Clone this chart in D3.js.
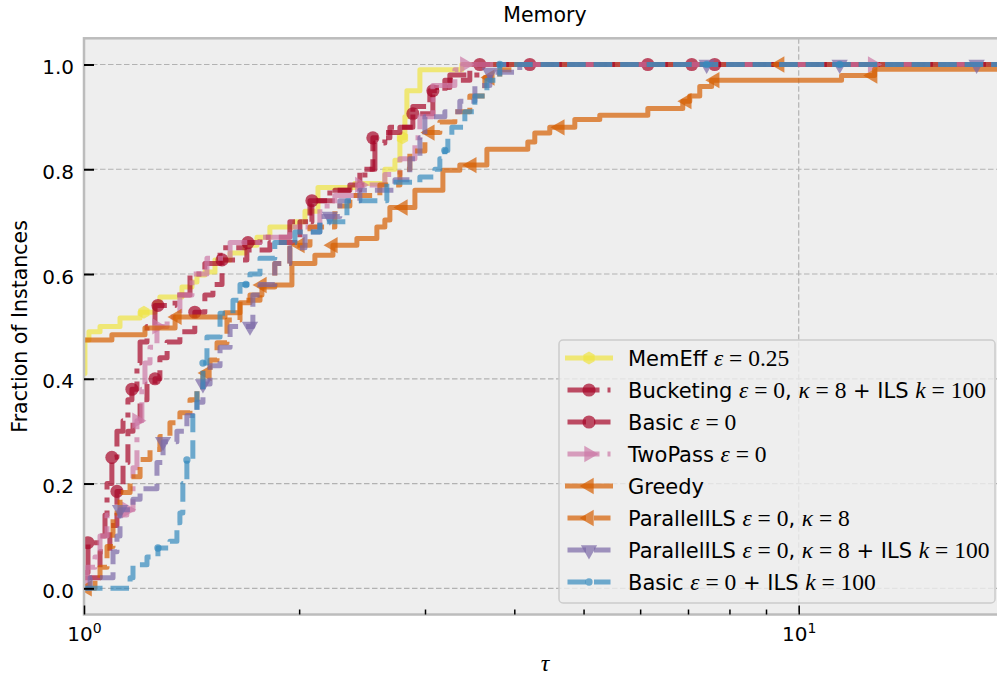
<!DOCTYPE html>
<html>
<head>
<meta charset="utf-8">
<script src="https://cdn.jsdelivr.net/npm/d3@7"></script>
<style>
    body { margin: 0; background: #fff; }
    svg { display: block; font-family: 'DejaVu Sans', sans-serif; }
    text { white-space: pre; }
</style>
</head>
<body>
<svg id="chart" width="997" height="678"></svg>
<script>
// performance profile steps: [tau, fraction of instances]
const memEff = [[1.0, 0.41], [1.003, 0.474], [1.016, 0.49], [1.053, 0.50], [1.123, 0.516], [1.198, 0.527], [1.257, 0.544], [1.277, 0.556], [1.371, 0.575], [1.416, 0.585], [1.439, 0.598], [1.476, 0.604], [1.525, 0.627], [1.601, 0.64], [1.680, 0.655], [1.746, 0.67], [1.820, 0.69], [1.973, 0.70], [2.038, 0.72], [2.125, 0.765], [2.393, 0.773], [2.636, 0.80], [2.723, 0.817], [2.767, 0.86], [2.812, 0.90], [2.830, 0.95], [2.951, 0.99], [3.378, 1.0]];
const bucketing = [[1.0, 0.03], [1.013, 0.087], [1.053, 0.10], [1.070, 0.14], [1.077, 0.20], [1.094, 0.25], [1.112, 0.30], [1.134, 0.32], [1.152, 0.36], [1.167, 0.38], [1.186, 0.43], [1.198, 0.47], [1.225, 0.50], [1.257, 0.54], [1.341, 0.56], [1.407, 0.60], [1.476, 0.62], [1.550, 0.65], [1.680, 0.66], [1.763, 0.67], [1.941, 0.70], [2.071, 0.74], [2.208, 0.76], [2.355, 0.77], [2.472, 0.80], [2.553, 0.85], [2.636, 0.87], [2.767, 0.88], [2.885, 0.906], [3.077, 0.956], [3.250, 0.98], [3.579, 1.0]];
const basic = [[1.0, 0.02], [1.053, 0.07], [1.087, 0.12], [1.112, 0.185], [1.134, 0.24], [1.152, 0.30], [1.171, 0.32], [1.198, 0.36], [1.225, 0.39], [1.257, 0.40], [1.277, 0.44], [1.307, 0.47], [1.362, 0.49], [1.429, 0.527], [1.476, 0.56], [1.515, 0.58], [1.560, 0.627], [1.690, 0.646], [1.820, 0.66], [2.005, 0.70], [2.084, 0.74], [2.244, 0.76], [2.432, 0.80], [2.536, 0.86], [2.679, 0.88], [2.885, 0.92], [3.047, 0.95], [3.198, 0.97], [3.466, 1.0]];
const twoPass = [[1.0, 0.0], [1.010, 0.04], [1.036, 0.06], [1.053, 0.10], [1.077, 0.14], [1.148, 0.15], [1.171, 0.23], [1.186, 0.32], [1.205, 0.38], [1.217, 0.43], [1.237, 0.46], [1.265, 0.50], [1.307, 0.518], [1.362, 0.56], [1.416, 0.60], [1.486, 0.63], [1.601, 0.66], [1.763, 0.67], [1.941, 0.69], [2.138, 0.73], [2.244, 0.75], [2.432, 0.77], [2.636, 0.79], [2.767, 0.82], [2.904, 0.86], [2.951, 0.90], [3.077, 0.96], [3.303, 0.99], [3.389, 1.0]];
const greedy = [[1.0, 0.474], [1.094, 0.484], [1.217, 0.497], [1.341, 0.518], [1.575, 0.526], [1.653, 0.545], [1.707, 0.56], [1.774, 0.579], [1.954, 0.62], [2.104, 0.636], [2.230, 0.655], [2.409, 0.668], [2.569, 0.69], [2.636, 0.703], [2.679, 0.727], [2.904, 0.76], [3.178, 0.798], [3.356, 0.808], [3.662, 0.838], [4.178, 0.852], [4.273, 0.869], [4.484, 0.88], [4.861, 0.895], [5.268, 0.903], [6.150, 0.916], [6.883, 0.93], [7.040, 0.94], [7.270, 0.958], [7.554, 0.97], [11.48, 0.979], [12.77, 0.991]];
const parallelIls = [[1.0, 0.0], [1.036, 0.02], [1.053, 0.04], [1.077, 0.08], [1.098, 0.144], [1.123, 0.183], [1.160, 0.213], [1.198, 0.246], [1.237, 0.265], [1.277, 0.29], [1.319, 0.316], [1.362, 0.335], [1.407, 0.36], [1.439, 0.385], [1.467, 0.411], [1.501, 0.436], [1.535, 0.469], [1.585, 0.512], [1.653, 0.55], [1.763, 0.575], [1.849, 0.62], [1.941, 0.655], [2.071, 0.69], [2.244, 0.73], [2.355, 0.75], [2.594, 0.77], [2.767, 0.80], [2.857, 0.835], [2.999, 0.87], [3.147, 0.89], [3.303, 0.91], [3.466, 0.94], [3.638, 0.975], [3.817, 0.99], [3.968, 1.0]];
const parallelIlsPlus = [[1.0, 0.0], [1.020, 0.02], [1.098, 0.07], [1.112, 0.10], [1.123, 0.15], [1.171, 0.17], [1.198, 0.19], [1.265, 0.24], [1.290, 0.28], [1.349, 0.30], [1.393, 0.33], [1.439, 0.355], [1.467, 0.39], [1.501, 0.425], [1.550, 0.46], [1.601, 0.50], [1.723, 0.56], [1.763, 0.58], [1.849, 0.62], [1.941, 0.65], [2.038, 0.68], [2.138, 0.71], [2.280, 0.74], [2.432, 0.76], [2.723, 0.78], [2.857, 0.82], [2.951, 0.86], [2.999, 0.90], [3.198, 0.91], [3.356, 0.93], [3.523, 0.96], [3.697, 0.985], [4.071, 1.0]];
const basicIls = [[1.0, 0.0], [1.160, 0.02], [1.171, 0.045], [1.225, 0.06], [1.269, 0.077], [1.319, 0.09], [1.349, 0.125], [1.362, 0.144], [1.375, 0.20], [1.393, 0.245], [1.420, 0.335], [1.439, 0.378], [1.467, 0.43], [1.486, 0.48], [1.550, 0.525], [1.616, 0.55], [1.653, 0.58], [1.707, 0.60], [1.763, 0.63], [1.849, 0.66], [1.973, 0.68], [2.138, 0.70], [2.333, 0.74], [2.653, 0.775], [2.951, 0.785], [3.097, 0.80], [3.147, 0.82], [3.198, 0.836], [3.229, 0.86], [3.271, 0.88], [3.411, 0.91], [3.523, 0.94], [3.662, 0.97], [3.817, 1.0]];

// tau positions where a marker sits on each curve
const memEffMarks = [1.213, 2.79];
const bucketingMarks = [1.013, 1.094, 1.167, 1.269, 1.696, 2.885, 3.579, 6.150, 7.629];
const basicMarks = [1.112, 1.257, 1.429, 1.560, 2.084, 2.536, 3.077, 4.205, 7.085];
const twoPassMarks = [1.148, 1.186, 1.265, 2.432, 3.411, 12.69];
const greedyMarks = [1.349, 1.774, 2.230, 2.794, 3.488, 4.632, 6.973, 7.629, 12.69];
const parallelIlsMarks = [1.010, 1.486, 2.005, 3.047, 3.697, 9.406];
const parallelIlsPlusMarks = [1.123, 1.290, 1.467, 1.707, 2.208, 3.697, 7.434, 11.41, 17.74];
const basicIlsMarks = [1.269, 1.393, 1.467, 1.685, 3.198, 3.817, 7.434, 11.41];

const tauMax = 19.5;
const yTicks = [0, 0.2, 0.4, 0.6, 0.8, 1.0];
const xMajor = [1, 10];
const xMinor = [2, 3, 4, 5, 6, 7, 8, 9];

// legend labels: t = sans text, i = math italic, m = math roman
const legendLabels = [
    [['MemEff ', 't'], ['ε', 'i'], [' = 0.25', 'm']],
    [['Bucketing ', 't'], ['ε', 'i'], [' = 0', 'm'], [', ', 't'], ['κ', 'i'], [' = 8', 'm'], [' + ILS ', 't'], ['k', 'i'], [' = 100', 'm']],
    [['Basic ', 't'], ['ε', 'i'], [' = 0', 'm']],
    [['TwoPass ', 't'], ['ε', 'i'], [' = 0', 'm']],
    [['Greedy', 't']],
    [['ParallelILS ', 't'], ['ε', 'i'], [' = 0', 'm'], [', ', 't'], ['κ', 'i'], [' = 8', 'm']],
    [['ParallelILS ', 't'], ['ε', 'i'], [' = 0', 'm'], [', ', 't'], ['κ', 'i'], [' = 8', 'm'], [' + ILS ', 't'], ['k', 'i'], [' = 100', 'm']],
    [['Basic ', 't'], ['ε', 'i'], [' = 0', 'm'], [' + ILS ', 't'], ['k', 'i'], [' = 100', 'm']]
];

const dashed = '18.5,8';
const dashDot = '32,8,5,8';

const series = [
    { data: memEff, marks: memEffMarks, color: '#F0E442', dash: null, marker: 'hexagon' },
    { data: bucketing, marks: bucketingMarks, color: '#A60628', dash: dashDot, marker: 'circle' },
    { data: basic, marks: basicMarks, color: '#A60628', dash: dashed, marker: 'circle' },
    { data: twoPass, marks: twoPassMarks, color: '#CC79A7', dash: dashDot, marker: 'triRight' },
    { data: greedy, marks: greedyMarks, color: '#D55E00', dash: null, marker: 'triLeft' },
    { data: parallelIls, marks: parallelIlsMarks, color: '#D55E00', dash: dashed, marker: 'triLeft' },
    { data: parallelIlsPlus, marks: parallelIlsPlusMarks, color: '#7A68A6', dash: dashed, marker: 'triDown' },
    { data: basicIls, marks: basicIlsMarks, color: '#348ABD', dash: dashed, marker: 'smallCircle' }
];

const plotLeft = 84, plotRight = 1006, plotTop = 38.3, plotBottom = 614.5;
const x = d3.scaleLog().domain([1, tauMax]).range([plotLeft, plotRight]);
const y = d3.scaleLinear().domain([-0.05, 1.05]).range([plotBottom, plotTop]);

const svg = d3.select('#chart');

svg.append('rect')
    .attr('x', plotLeft).attr('y', plotTop)
    .attr('width', plotRight - plotLeft).attr('height', plotBottom - plotTop)
    .attr('fill', '#eeeeee');

svg.append('defs').append('clipPath').attr('id', 'plot-clip')
    .append('rect')
    .attr('x', plotLeft).attr('y', plotTop)
    .attr('width', plotRight - plotLeft).attr('height', plotBottom - plotTop);

// grid
const grid = svg.append('g')
    .attr('stroke', '#b2b2b2')
    .attr('stroke-width', 1.2)
    .attr('stroke-dasharray', '5.5,2.5');
grid.selectAll('.hgrid')
    .data(yTicks)
    .enter()
    .append('line')
    .attr('x1', plotLeft).attr('x2', plotRight)
    .attr('y1', d => y(d)).attr('y2', d => y(d));
grid.selectAll('.vgrid')
    .data(xMajor)
    .enter()
    .append('line')
    .attr('x1', d => x(d)).attr('x2', d => x(d))
    .attr('y1', plotTop).attr('y2', plotBottom);

function markerPath(kind) {
    if (kind === 'circle') return d3.symbol(d3.symbolCircle, 135)();
    if (kind === 'smallCircle') return d3.symbol(d3.symbolCircle, 42)();
    if (kind === 'hexagon') {
        return d3.line()(d3.range(6).map(i => {
            let a = Math.PI / 3 * i - Math.PI / 2;
            return [6.5 * Math.cos(a), 6.5 * Math.sin(a)];
        })) + 'Z';
    }
    return d3.symbol(d3.symbolTriangle, 115)();
}

function markerRotate(kind) {
    if (kind === 'triRight') return 90;
    if (kind === 'triLeft') return -90;
    if (kind === 'triDown') return 180;
    return 0;
}

const stepLine = d3.line()
    .x(d => x(d[0]))
    .y(d => y(d[1]))
    .curve(d3.curveStepAfter);
const bisectTau = d3.bisector(d => d[0]).right;

const plot = svg.append('g').attr('clip-path', 'url(#plot-clip)');

series.forEach(s => {
    let last = s.data[s.data.length - 1];
    let pts = s.data.concat([[tauMax, last[1]]]);
    plot.append('path')
        .attr('d', stepLine(pts))
        .attr('fill', 'none')
        .attr('stroke', s.color)
        .attr('stroke-width', 5)
        .attr('stroke-opacity', 0.7)
        .attr('stroke-linejoin', 'round')
        .attr('stroke-linecap', s.dash ? 'butt' : 'square')
        .attr('stroke-dasharray', s.dash);
    plot.selectAll(null)
        .data(s.marks)
        .enter()
        .append('path')
        .attr('d', markerPath(s.marker))
        .attr('transform', t => {
            let v = s.data[Math.max(0, bisectTau(s.data, t) - 1)][1];
            return `translate(${x(t)},${y(v)}) rotate(${markerRotate(s.marker)})`;
        })
        .attr('fill', s.color)
        .attr('fill-opacity', 0.7);
});

// frame
svg.append('rect')
    .attr('x', plotLeft).attr('y', plotTop)
    .attr('width', plotRight - plotLeft).attr('height', plotBottom - plotTop)
    .attr('fill', 'none')
    .attr('stroke', '#bcbcbc')
    .attr('stroke-width', 2.5);

// y axis
const yAxis = svg.append('g')
    .attr('transform', `translate(${plotLeft},0)`)
    .call(d3.axisLeft(y).tickValues(yTicks).tickSize(-10).tickPadding(10).tickFormat(d3.format('.1f')));
yAxis.select('.domain').remove();
yAxis.selectAll('.tick line').attr('stroke', '#000').attr('stroke-width', 2);
yAxis.selectAll('.tick text')
    .attr('font-family', 'DejaVu Sans')
    .attr('font-size', 20)
    .attr('fill', '#000')
    .attr('dy', '0.45em');

// x axis
const xMinorAxis = svg.append('g')
    .attr('transform', `translate(0,${plotBottom})`)
    .call(d3.axisBottom(x).tickValues(xMinor).tickSize(-5).tickFormat(''));
xMinorAxis.select('.domain').remove();
xMinorAxis.selectAll('.tick line').attr('stroke', '#000').attr('stroke-width', 1.5);

const xAxis = svg.append('g')
    .attr('transform', `translate(0,${plotBottom})`)
    .call(d3.axisBottom(x).tickValues(xMajor).tickSize(-9).tickPadding(12).tickFormat(''));
xAxis.select('.domain').remove();
xAxis.selectAll('.tick line').attr('stroke', '#000').attr('stroke-width', 1.5);
let xLabels = xAxis.selectAll('.tick text')
    .attr('font-family', 'DejaVu Sans')
    .attr('font-size', 20)
    .attr('fill', '#000');
xLabels.append('tspan').text('10');
xLabels.append('tspan')
    .attr('font-size', 14)
    .attr('dy', -8)
    .text(d => Math.round(Math.log10(d)));

// titles
svg.append('text')
    .attr('x', (plotLeft + plotRight) / 2)
    .attr('y', 21.7)
    .attr('text-anchor', 'middle')
    .attr('font-size', 20.5)
    .attr('fill', '#000')
    .text('Memory');

svg.append('text')
    .attr('transform', `translate(27,${(plotTop + plotBottom) / 2}) rotate(-90)`)
    .attr('text-anchor', 'middle')
    .attr('font-size', 20.5)
    .attr('fill', '#000')
    .text('Fraction of Instances');

svg.append('text')
    .attr('x', (plotLeft + plotRight) / 2)
    .attr('y', 671)
    .attr('text-anchor', 'middle')
    .attr('font-family', 'Liberation Serif')
    .attr('font-style', 'italic')
    .attr('font-size', 24)
    .attr('fill', '#000')
    .text('τ');

// legend
const legend = svg.append('g').classed('legend', true);
legend.append('rect')
    .attr('x', 559).attr('y', 340)
    .attr('width', 436).attr('height', 263)
    .attr('rx', 4)
    .attr('fill', '#eeeeee')
    .attr('fill-opacity', 0.8)
    .attr('stroke', '#cccccc')
    .attr('stroke-width', 1.5);

const items = legend.selectAll('.legend-item')
    .data(series)
    .enter()
    .append('g')
    .attr('transform', (d, i) => `translate(0,${358 + i * 32})`);
items.append('line')
    .attr('x1', 567.5).attr('x2', 610.5)
    .attr('stroke', d => d.color)
    .attr('stroke-width', 5)
    .attr('stroke-opacity', 0.7)
    .attr('stroke-linecap', d => d.dash ? 'butt' : 'square')
    .attr('stroke-dasharray', d => d.dash);
items.append('path')
    .attr('d', d => markerPath(d.marker))
    .attr('transform', d => `translate(589,0) rotate(${markerRotate(d.marker)})`)
    .attr('fill', d => d.color)
    .attr('fill-opacity', 0.7);
items.append('text')
    .attr('x', 628)
    .attr('y', 7.5)
    .attr('fill', '#000')
    .selectAll('tspan')
    .data((d, i) => legendLabels[i])
    .enter()
    .append('tspan')
    .attr('font-family', p => p[1] === 't' ? 'DejaVu Sans' : 'Liberation Serif')
    .attr('font-style', p => p[1] === 'i' ? 'italic' : 'normal')
    .attr('font-size', p => p[1] === 't' ? 21 : 23.5)
    .text(p => p[0]);
</script>
</body>
</html>
